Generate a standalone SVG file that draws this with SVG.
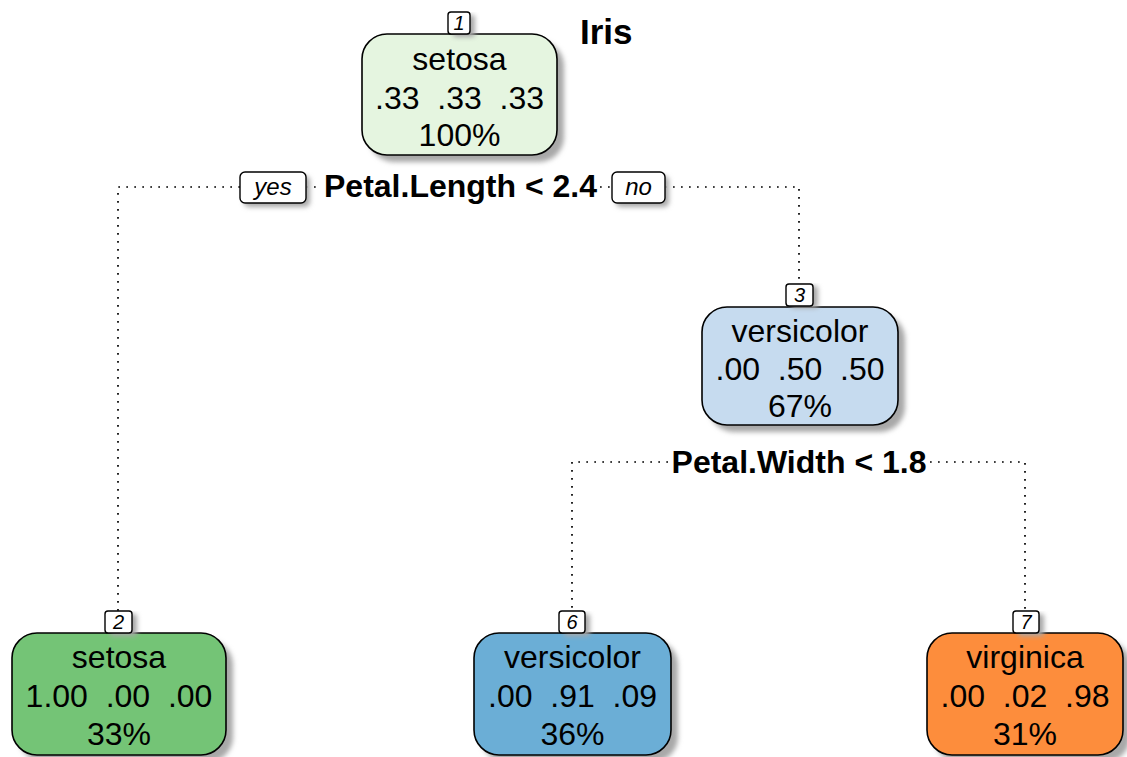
<svg xmlns="http://www.w3.org/2000/svg" width="1127" height="757" viewBox="0 0 1127 757">
<defs>
<filter id="blur" x="-10%" y="-10%" width="130%" height="130%"><feGaussianBlur stdDeviation="2.5"/></filter>
</defs>
<style>
.shadow{fill:#a8a8a8;filter:url(#blur)}
.box{stroke:#000;stroke-width:1.6}
.nt{font-family:"Liberation Sans",Arial,sans-serif;font-size:32px;fill:#000;text-anchor:middle}
.num{font-family:"Liberation Sans",Arial,sans-serif;font-size:20px;font-style:italic;fill:#000;text-anchor:middle}
.nbox{fill:#fff;stroke:#000;stroke-width:1.4}
.split{font-family:"Liberation Sans",Arial,sans-serif;font-size:32px;font-weight:bold;fill:#000;text-anchor:middle}
.yn{font-family:"Liberation Sans",Arial,sans-serif;font-size:24px;font-style:italic;fill:#000;text-anchor:middle}
.edge{fill:none;stroke:#000;stroke-width:1.7;stroke-dasharray:1.7 6.3}
</style>
<rect width="1127" height="757" fill="#fff"/>
<text x="580" y="44" font-family="Liberation Sans,Arial,sans-serif" font-size="35" font-weight="bold">Iris</text>

<g id="connectors">
<path class="edge" d="M240,187 H118 V611"/>
<path class="edge" d="M306,187 H320"/>
<path class="edge" d="M600,187 H612"/>
<path class="edge" d="M665,187 H799 V283"/>
<path class="edge" d="M668,462 H572 V611"/>
<path class="edge" d="M930,462 H1025 V611"/>
</g>

<g id="split1">
<rect class="shadow" x="244" y="176" width="66" height="31" rx="5"/>
<rect class="nbox" x="240" y="172" width="66" height="31" rx="5"/>
<text class="yn" x="273" y="195">yes</text>
<rect class="shadow" x="616" y="176" width="53" height="31" rx="5"/>
<rect class="nbox" x="612" y="172" width="53" height="31" rx="5"/>
<text class="yn" x="638.5" y="195">no</text>
<text class="split" x="460.5" y="197">Petal.Length &lt; 2.4</text>
</g>

<g id="split2">
<text class="split" x="799" y="473">Petal.Width &lt; 1.8</text>
</g>

<g id="node1">
<rect class="shadow" x="369" y="41" width="195" height="121" rx="25"/>
<rect class="box" x="362" y="34" width="195" height="121" rx="25" fill="#E5F5E0"/>
<text class="nt" x="459.5" y="70">setosa</text>
<text class="nt" x="459.5" y="109" xml:space="preserve">.33  .33  .33</text>
<text class="nt" x="459.5" y="146">100%</text>
<rect class="shadow" x="453" y="15" width="22" height="22" rx="3"/>
<rect class="nbox" x="448" y="12" width="22" height="22" rx="3"/>
<text class="num" x="459" y="30">1</text>
</g>

<g id="node3">
<rect class="shadow" x="709" y="314" width="196" height="118" rx="25"/>
<rect class="box" x="702" y="307" width="196" height="118" rx="25" fill="#C6DBEF"/>
<text class="nt" x="800" y="342">versicolor</text>
<text class="nt" x="800" y="380" xml:space="preserve">.00  .50  .50</text>
<text class="nt" x="800" y="417">67%</text>
<rect class="shadow" x="791" y="286" width="27" height="22" rx="3"/>
<rect class="nbox" x="786" y="284" width="27" height="22" rx="3"/>
<text class="num" x="799.5" y="302">3</text>
</g>

<g id="node2">
<rect class="shadow" x="19" y="640" width="214" height="122" rx="25"/>
<rect class="box" x="12" y="633" width="214" height="122" rx="25" fill="#74C476"/>
<text class="nt" x="119" y="668">setosa</text>
<text class="nt" x="119" y="707" xml:space="preserve">1.00  .00  .00</text>
<text class="nt" x="119" y="745">33%</text>
<rect class="shadow" x="110" y="614" width="27" height="22" rx="3"/>
<rect class="nbox" x="105" y="611" width="27" height="22" rx="3"/>
<text class="num" x="118.5" y="629">2</text>
</g>

<g id="node6">
<rect class="shadow" x="481" y="640" width="197" height="122" rx="25"/>
<rect class="box" x="474" y="633" width="197" height="122" rx="25" fill="#6BAED6"/>
<text class="nt" x="572.5" y="668">versicolor</text>
<text class="nt" x="572.5" y="707" xml:space="preserve">.00  .91  .09</text>
<text class="nt" x="572.5" y="745">36%</text>
<rect class="shadow" x="564" y="614" width="26" height="22" rx="3"/>
<rect class="nbox" x="559" y="611" width="26" height="22" rx="3"/>
<text class="num" x="572" y="629">6</text>
</g>

<g id="node7">
<rect class="shadow" x="934" y="640" width="196" height="122" rx="25"/>
<rect class="box" x="927" y="633" width="196" height="122" rx="25" fill="#FD8D3C"/>
<text class="nt" x="1025" y="668">virginica</text>
<text class="nt" x="1025" y="707" xml:space="preserve">.00  .02  .98</text>
<text class="nt" x="1025" y="745">31%</text>
<rect class="shadow" x="1018" y="614" width="26" height="22" rx="3"/>
<rect class="nbox" x="1013" y="611" width="26" height="22" rx="3"/>
<text class="num" x="1026" y="629">7</text>
</g>
</svg>
